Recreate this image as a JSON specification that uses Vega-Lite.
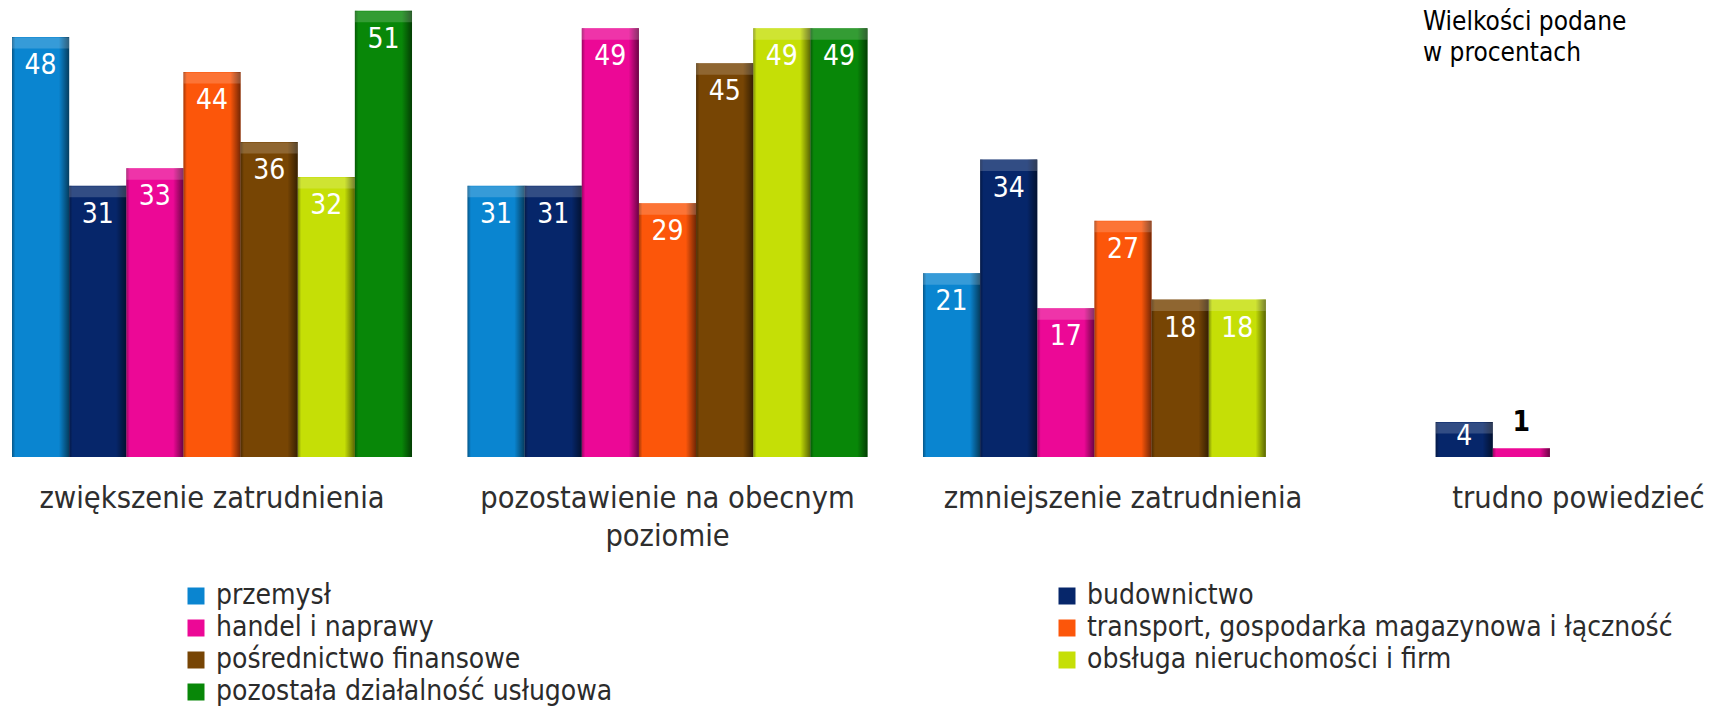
{
  "$schema": "https://vega.github.io/schema/vega-lite/v6.json",
  "autosize": {"type": "none"},
  "width": 1699,
  "height": 455,
  "padding": {"left": 12, "right": 0, "top": 2, "bottom": 250},
  "background": "white",
  "config": {
    "view": {"stroke": null},
    "font": "DejaVu Sans Condensed, DejaVu Sans, sans-serif"
  },
  "title": {
    "text": ["Wielkości podane", "w procentach"],
    "anchor": "start",
    "frame": "group",
    "orient": "top",
    "dx": 1411,
    "dy": 64,
    "offset": 0,
    "baseline": "top",
    "fontSize": 26,
    "fontWeight": "normal",
    "lineHeight": 31,
    "color": "#000000",
    "font": "DejaVu Sans Condensed, DejaVu Sans, sans-serif"
  },
  "data": {
    "values": [
      {"grupa": "zwiększenie zatrudnienia", "sekcja": "przemysł", "wartosc": 48},
      {"grupa": "zwiększenie zatrudnienia", "sekcja": "budownictwo", "wartosc": 31},
      {"grupa": "zwiększenie zatrudnienia", "sekcja": "handel i naprawy", "wartosc": 33},
      {"grupa": "zwiększenie zatrudnienia", "sekcja": "transport, gospodarka magazynowa i łączność", "wartosc": 44},
      {"grupa": "zwiększenie zatrudnienia", "sekcja": "pośrednictwo finansowe", "wartosc": 36},
      {"grupa": "zwiększenie zatrudnienia", "sekcja": "obsługa nieruchomości i firm", "wartosc": 32},
      {"grupa": "zwiększenie zatrudnienia", "sekcja": "pozostała działalność usługowa", "wartosc": 51},
      {"grupa": "pozostawienie na obecnym poziomie", "sekcja": "przemysł", "wartosc": 31},
      {"grupa": "pozostawienie na obecnym poziomie", "sekcja": "budownictwo", "wartosc": 31},
      {"grupa": "pozostawienie na obecnym poziomie", "sekcja": "handel i naprawy", "wartosc": 49},
      {"grupa": "pozostawienie na obecnym poziomie", "sekcja": "transport, gospodarka magazynowa i łączność", "wartosc": 29},
      {"grupa": "pozostawienie na obecnym poziomie", "sekcja": "pośrednictwo finansowe", "wartosc": 45},
      {"grupa": "pozostawienie na obecnym poziomie", "sekcja": "obsługa nieruchomości i firm", "wartosc": 49},
      {"grupa": "pozostawienie na obecnym poziomie", "sekcja": "pozostała działalność usługowa", "wartosc": 49},
      {"grupa": "zmniejszenie zatrudnienia", "sekcja": "przemysł", "wartosc": 21},
      {"grupa": "zmniejszenie zatrudnienia", "sekcja": "budownictwo", "wartosc": 34},
      {"grupa": "zmniejszenie zatrudnienia", "sekcja": "handel i naprawy", "wartosc": 17},
      {"grupa": "zmniejszenie zatrudnienia", "sekcja": "transport, gospodarka magazynowa i łączność", "wartosc": 27},
      {"grupa": "zmniejszenie zatrudnienia", "sekcja": "pośrednictwo finansowe", "wartosc": 18},
      {"grupa": "zmniejszenie zatrudnienia", "sekcja": "obsługa nieruchomości i firm", "wartosc": 18},
      {"grupa": "trudno powiedzieć", "sekcja": "budownictwo", "wartosc": 4},
      {"grupa": "trudno powiedzieć", "sekcja": "handel i naprawy", "wartosc": 1}
    ]
  },
  "encoding": {
    "x": {
      "field": "grupa",
      "type": "nominal",
      "sort": ["zwiększenie zatrudnienia", "pozostawienie na obecnym poziomie", "zmniejszenie zatrudnienia", "trudno powiedzieć"],
      "scale": {"range": [0, 1766.5], "paddingInner": 0.1218, "paddingOuter": 0},
      "axis": {
        "title": null,
        "domain": false,
        "ticks": false,
        "labelAngle": 0,
        "labelFontSize": 30.5,
        "labelColor": "#2e2e2e",
        "labelBaseline": "top",
        "labelPadding": 26,
        "labelLineHeight": 38,
        "labelLimit": 800,
        "labelExpr": "datum.label == 'pozostawienie na obecnym poziomie' ? ['pozostawienie na obecnym', 'poziomie'] : datum.label"
      }
    },
    "xOffset": {
      "field": "sekcja",
      "type": "nominal",
      "scale": {
        "domain": ["przemysł", "budownictwo", "handel i naprawy", "transport, gospodarka magazynowa i łączność", "pośrednictwo finansowe", "obsługa nieruchomości i firm", "pozostała działalność usługowa"],
        "paddingInner": 0,
        "paddingOuter": 0
      }
    },
    "y": {
      "field": "wartosc",
      "type": "quantitative",
      "scale": {"domain": [0, 52], "nice": false, "zero": true},
      "axis": null
    }
  },
  "layer": [
    {
      "mark": {"type": "bar", "strokeWidth": 0},
      "encoding": {
        "color": {
          "field": "sekcja",
          "type": "nominal",
          "scale": {
            "domain": ["przemysł", "budownictwo", "handel i naprawy", "transport, gospodarka magazynowa i łączność", "pośrednictwo finansowe", "obsługa nieruchomości i firm", "pozostała działalność usługowa"],
            "range": ["#0A85D0", "#06266A", "#EC0896", "#FC560A", "#774504", "#C5DF06", "#088708"]
          },
          "legend": {
            "title": null,
            "orient": "none",
            "legendX": 170,
            "legendY": 580,
            "direction": "horizontal",
            "columns": 2,
            "columnPadding": 440,
            "rowPadding": 4,
            "padding": 0,
            "symbolType": "square",
            "symbolSize": 289,
            "symbolStrokeWidth": 0,
            "symbolOpacity": 1,
            "labelFontSize": 28,
            "labelColor": "#2b2b2b",
            "labelLimit": 700,
            "labelOffset": 6,
            "labelFont": "DejaVu Sans Condensed, DejaVu Sans, sans-serif"
          }
        }
      }
    },
    {
      "mark": {
        "type": "bar",
        "strokeWidth": 0,
        "color": {
          "gradient": "linear",
          "x1": 0, "x2": 1, "y1": 0, "y2": 0,
          "stops": [
            {"offset": 0, "color": "rgba(0,0,0,0.35)"},
            {"offset": 0.06, "color": "rgba(0,0,0,0)"},
            {"offset": 0.82, "color": "rgba(0,0,0,0)"},
            {"offset": 1, "color": "rgba(0,0,0,0.55)"}
          ]
        }
      }
    },
    {
      "transform": [{"filter": "datum.wartosc >= 3"}],
      "mark": {"type": "tick", "orient": "horizontal", "thickness": 11, "size": 57, "yOffset": 6, "color": "white", "opacity": 0.18}
    },
    {
      "transform": [{"filter": "datum.wartosc >= 10"}],
      "mark": {"type": "text", "baseline": "middle", "align": "center", "dy": 29, "fontSize": 28, "color": "white"},
      "encoding": {"text": {"field": "wartosc", "type": "quantitative"}}
    },
    {
      "transform": [{"filter": "datum.wartosc >= 3 && datum.wartosc < 10"}],
      "mark": {"type": "text", "baseline": "middle", "align": "center", "dy": 15, "fontSize": 28, "color": "white"},
      "encoding": {"text": {"field": "wartosc", "type": "quantitative"}}
    },
    {
      "transform": [{"filter": "datum.wartosc < 3"}],
      "mark": {"type": "text", "baseline": "middle", "align": "center", "dy": -25, "fontSize": 28, "fontWeight": "bold", "color": "black"},
      "encoding": {"text": {"field": "wartosc", "type": "quantitative"}}
    }
  ]
}
